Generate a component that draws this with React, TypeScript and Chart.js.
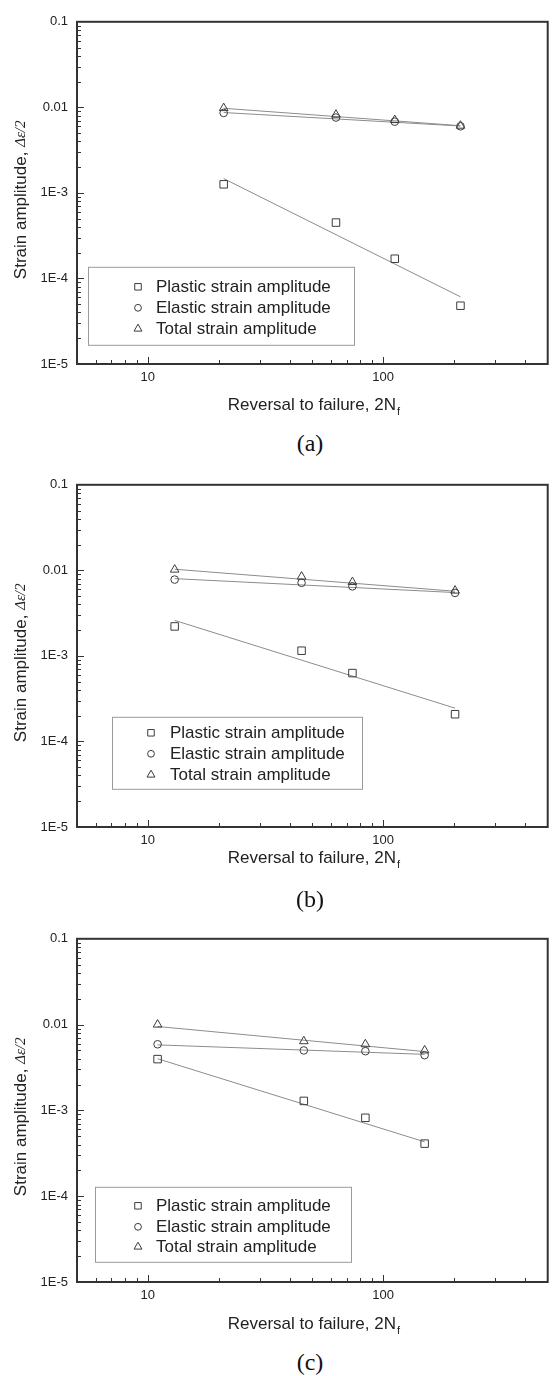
import React, { useEffect, useRef } from "react";
import { Chart, registerables } from "chart.js";

Chart.register(...registerables);

// ---------- axis definitions ----------
const X_MIN = 5;
const X_MAX = 500;
const Y_MIN = 1e-5;
const Y_MAX = 0.1;
const X_TICKS = [10, 100];
const X_TICK_LABELS = ["10", "100"];
const Y_TICKS = [1e-5, 1e-4, 1e-3, 1e-2, 1e-1];
const Y_TICK_LABELS = ["1E-5", "1E-4", "1E-3", "0.01", "0.1"];
const SERIES_NAMES = ["Plastic strain amplitude", "Elastic strain amplitude", "Total strain amplitude"];
const X_TITLE = "Reversal to failure, 2N";
const X_TITLE_SUB = "f";
const Y_TITLE = "Strain amplitude, ";
const Y_TITLE_SYMBOL = "\u0394\u03b5/2";

// ---------- panel (a) ----------
const A_REVERSALS = [21, 63, 112, 213];
const A_PLASTIC = [1.26e-3, 4.5e-4, 1.7e-4, 4.8e-5];
const A_ELASTIC = [8.6e-3, 7.6e-3, 6.8e-3, 6.0e-3];
const A_TOTAL = [9.8e-3, 8.2e-3, 7.1e-3, 6.1e-3];
const A_FIT_REVERSALS = [21, 213];
const A_PLASTIC_FIT = [1.47e-3, 6.1e-5];
const A_ELASTIC_FIT = [8.7e-3, 6.05e-3];
const A_TOTAL_FIT = [9.75e-3, 6.1e-3];

// ---------- panel (b) ----------
const B_REVERSALS = [13, 45, 74, 202];
const B_PLASTIC = [2.21e-3, 1.15e-3, 6.3e-4, 2.08e-4];
const B_ELASTIC = [7.8e-3, 7.15e-3, 6.5e-3, 5.45e-3];
const B_TOTAL = [1.02e-2, 8.45e-3, 7.3e-3, 5.8e-3];
const B_FIT_REVERSALS = [13, 202];
const B_PLASTIC_FIT = [2.6e-3, 2.45e-4];
const B_ELASTIC_FIT = [8.0e-3, 5.5e-3];
const B_TOTAL_FIT = [1.03e-2, 5.7e-3];

// ---------- panel (c) ----------
const C_REVERSALS = [11, 46, 84, 150];
const C_PLASTIC = [3.96e-3, 1.29e-3, 8.2e-4, 4.1e-4];
const C_ELASTIC = [5.9e-3, 5.0e-3, 4.9e-3, 4.4e-3];
const C_TOTAL = [1.0e-2, 6.4e-3, 5.9e-3, 5.0e-3];
const C_FIT_REVERSALS = [11, 150];
const C_PLASTIC_FIT = [4.0e-3, 4.3e-4];
const C_ELASTIC_FIT = [5.8e-3, 4.5e-3];
const C_TOTAL_FIT = [9.5e-3, 4.85e-3];

// ---------- styling ----------
const SANS = "'Liberation Sans', Arial, Helvetica, sans-serif";
const SERIF = "'Liberation Serif', 'Times New Roman', serif";
const FRAME = "#333333";
const MARKER = "#3c3c3c";
const FIT_LINE = "#8c8c8c";
const TEXT = "#222222";
const CANVAS_W = 554;
const CANVAS_H = 420;
const PAD_TOP = 12;
const PLOT_LEFT = 77;
const PLOT_RIGHT_PAD = 6;

type Legend = { left: number; right: number; top: number; bottom: number; rows: number[]; markerX: number; textX: number };
type Panel = {
  rev: number[]; plastic: number[]; elastic: number[]; total: number[];
  fitRev: number[]; plasticFit: number[]; elasticFit: number[]; totalFit: number[];
  caption: string; plotTop: number; plotH: number; titleGap: number; captionY: number; legend: Legend;
};

const PANELS: Panel[] = [
  {
    rev: A_REVERSALS, plastic: A_PLASTIC, elastic: A_ELASTIC, total: A_TOTAL,
    fitRev: A_FIT_REVERSALS, plasticFit: A_PLASTIC_FIT, elasticFit: A_ELASTIC_FIT, totalFit: A_TOTAL_FIT,
    caption: "(a)", plotTop: 17, plotH: 347, titleGap: 41, captionY: 443,
    legend: { left: 88, right: 354, top: 245, bottom: 323, rows: [265, 286, 307], markerX: 138, textX: 156 },
  },
  {
    rev: B_REVERSALS, plastic: B_PLASTIC, elastic: B_ELASTIC, total: B_TOTAL,
    fitRev: B_FIT_REVERSALS, plasticFit: B_PLASTIC_FIT, elasticFit: B_ELASTIC_FIT, totalFit: B_TOTAL_FIT,
    caption: "(b)", plotTop: 480, plotH: 347, titleGap: 31, captionY: 899,
    legend: { left: 112, right: 362, top: 232, bottom: 304, rows: [248, 269, 290], markerX: 151, textX: 170 },
  },
  {
    rev: C_REVERSALS, plastic: C_PLASTIC, elastic: C_ELASTIC, total: C_TOTAL,
    fitRev: C_FIT_REVERSALS, plasticFit: C_PLASTIC_FIT, elasticFit: C_ELASTIC_FIT, totalFit: C_TOTAL_FIT,
    caption: "(c)", plotTop: 934, plotH: 348, titleGap: 42, captionY: 1362,
    legend: { left: 95, right: 351, top: 248, bottom: 323, rows: [267, 288, 308], markerX: 138, textX: 156 },
  },
];

const STYLES = ["rect", "circle", "triangle"];
const RADII = [5.3, 3.8, 5];
const LEGEND_RADII = [4.6, 3.4, 4.6];

function drawMarker(ctx: CanvasRenderingContext2D, style: string, x: number, y: number, r: number) {
  ctx.beginPath();
  if (style === "rect") {
    const h = r * Math.SQRT1_2;
    ctx.rect(x - h, y - h, 2 * h, 2 * h);
  } else if (style === "circle") {
    ctx.arc(x, y, r, 0, Math.PI * 2);
  } else {
    let rad = 0;
    ctx.moveTo(x + Math.sin(rad) * r, y - Math.cos(rad) * r);
    rad += (2 * Math.PI) / 3;
    ctx.lineTo(x + Math.sin(rad) * r, y - Math.cos(rad) * r);
    rad += (2 * Math.PI) / 3;
    ctx.lineTo(x + Math.sin(rad) * r, y - Math.cos(rad) * r);
    ctx.closePath();
  }
  ctx.stroke();
}

function makeDecor(p: Panel) {
  return {
    id: "decor",
    afterDraw(chart: any) {
      const { ctx, chartArea: a, scales } = chart;
      const xs = scales.x;
      const ys = scales.y;
      ctx.save();
      // inward ticks
      ctx.strokeStyle = FRAME;
      ctx.lineWidth = 1;
      for (let e = -5; e <= -2; e++) {
        for (let m = 1; m <= 9; m++) {
          const v = m * Math.pow(10, e);
          if (v <= Y_MIN * 1.0001) continue;
          const py = Math.round(ys.getPixelForValue(v)) + 0.5;
          const len = m === 1 ? 7 : 4;
          ctx.beginPath();
          ctx.moveTo(a.left, py);
          ctx.lineTo(a.left + len, py);
          ctx.stroke();
        }
      }
      for (let e = 0; e <= 2; e++) {
        for (let m = 1; m <= 9; m++) {
          const v = m * Math.pow(10, e);
          if (v <= X_MIN * 1.0001 || v >= X_MAX * 0.9999) continue;
          const px = Math.round(xs.getPixelForValue(v)) + 0.5;
          const len = m === 1 ? 7 : 4;
          ctx.beginPath();
          ctx.moveTo(px, a.bottom);
          ctx.lineTo(px, a.bottom - len);
          ctx.stroke();
        }
      }
      // frame
      ctx.strokeStyle = FRAME;
      ctx.lineWidth = 2;
      ctx.strokeRect(a.left, a.top, a.right - a.left, a.bottom - a.top);

      // legend
      const L = p.legend;
      ctx.fillStyle = "#ffffff";
      ctx.fillRect(L.left, a.top + L.top, L.right - L.left, L.bottom - L.top);
      ctx.strokeStyle = "#9a9a9a";
      ctx.lineWidth = 1;
      ctx.strokeRect(L.left + 0.5, a.top + L.top + 0.5, L.right - L.left, L.bottom - L.top);
      ctx.font = `17px ${SANS}`;
      ctx.textBaseline = "middle";
      ctx.textAlign = "left";
      SERIES_NAMES.forEach((name, i) => {
        const y = a.top + L.rows[i];
        ctx.strokeStyle = MARKER;
        ctx.lineWidth = 1;
        drawMarker(ctx, STYLES[i], L.markerX, y, LEGEND_RADII[i]);
        ctx.fillStyle = TEXT;
        ctx.fillText(name, L.textX, y + 1);
      });

      // x title
      ctx.fillStyle = TEXT;
      ctx.font = `17px ${SANS}`;
      const w1 = ctx.measureText(X_TITLE).width;
      ctx.font = `11px ${SANS}`;
      const w2 = ctx.measureText(X_TITLE_SUB).width;
      const cx = (a.left + a.right) / 2 + 1;
      const ty = a.bottom + p.titleGap;
      const sx = cx - (w1 + w2) / 2;
      ctx.font = `17px ${SANS}`;
      ctx.fillText(X_TITLE, sx, ty);
      ctx.font = `11px ${SANS}`;
      ctx.fillText(X_TITLE_SUB, sx + w1 + 1, ty + 7);

      // y title (rotated, mixed fonts)
      ctx.save();
      ctx.translate(21, a.top + 178);
      ctx.rotate(-Math.PI / 2);
      ctx.font = `17px ${SANS}`;
      const u1 = ctx.measureText(Y_TITLE).width;
      ctx.font = `italic 15px ${SERIF}`;
      const u2 = ctx.measureText(Y_TITLE_SYMBOL).width;
      const st = -(u1 + u2) / 2;
      ctx.font = `17px ${SANS}`;
      ctx.fillText(Y_TITLE, st, 0);
      ctx.font = `italic 15px ${SERIF}`;
      ctx.fillText(Y_TITLE_SYMBOL, st + u1, 0);
      ctx.restore();

      ctx.restore();
    },
  };
}

function pts(xs: number[], ys: number[]) {
  return xs.map((x, i) => ({ x, y: ys[i] }));
}

function PanelChart({ p }: { p: Panel }) {
  const ref = useRef<HTMLCanvasElement | null>(null);
  useEffect(() => {
    if (!ref.current) return;
    const seriesY = [p.plastic, p.elastic, p.total];
    const fitY = [p.plasticFit, p.elasticFit, p.totalFit];
    const markerSets = seriesY.map((ys, i) => ({
      label: SERIES_NAMES[i],
      data: pts(p.rev, ys),
      showLine: false,
      pointStyle: STYLES[i],
      pointRadius: RADII[i],
      pointBorderColor: MARKER,
      pointBackgroundColor: "rgba(0,0,0,0)",
      pointBorderWidth: 1,
      order: 0,
    }));
    const fitSets = fitY.map((ys, i) => ({
      label: SERIES_NAMES[i] + " fit",
      data: pts(p.fitRev, ys),
      showLine: true,
      borderColor: FIT_LINE,
      borderWidth: 1,
      pointRadius: 0,
      order: 1,
    }));
    const xAxisH = CANVAS_H - PAD_TOP - p.plotH;
    const chart = new Chart(ref.current, {
      type: "scatter",
      data: { datasets: [...markerSets, ...fitSets] as any },
      options: {
        animation: false,
        responsive: false,
        devicePixelRatio: 1,
        layout: { padding: { top: PAD_TOP, right: PLOT_RIGHT_PAD, left: 0, bottom: 0 } },
        plugins: { legend: { display: false }, tooltip: { enabled: false } },
        scales: {
          x: {
            type: "logarithmic",
            min: X_MIN,
            max: X_MAX,
            afterBuildTicks: (s: any) => {
              s.ticks = X_TICKS.map((v) => ({ value: v }));
            },
            afterFit: (s: any) => {
              s.height = xAxisH;
            },
            ticks: {
              autoSkip: false,
              maxRotation: 0,
              padding: 6,
              color: TEXT,
              font: { family: SANS, size: 13 },
              callback: (v: any) => {
                const i = X_TICKS.findIndex((t) => Math.abs(t - v) / t < 1e-6);
                return i >= 0 ? X_TICK_LABELS[i] : "";
              },
            },
            grid: { display: false, drawTicks: false },
            border: { display: false },
          },
          y: {
            type: "logarithmic",
            min: Y_MIN,
            max: Y_MAX,
            afterBuildTicks: (s: any) => {
              s.ticks = Y_TICKS.map((v) => ({ value: v }));
            },
            afterFit: (s: any) => {
              s.width = PLOT_LEFT;
            },
            ticks: {
              autoSkip: false,
              padding: 9,
              color: TEXT,
              font: { family: SANS, size: 13 },
              callback: (v: any) => {
                const i = Y_TICKS.findIndex((t) => Math.abs(t - v) / t < 1e-6);
                return i >= 0 ? Y_TICK_LABELS[i] : "";
              },
            },
            grid: { display: false, drawTicks: false },
            border: { display: false },
          },
        },
      } as any,
      plugins: [makeDecor(p)],
    });
    return () => chart.destroy();
  }, [p]);
  return (
    <>
      <canvas
        ref={ref}
        width={CANVAS_W}
        height={CANVAS_H}
        style={{ position: "absolute", left: 0, top: p.plotTop - PAD_TOP, width: CANVAS_W, height: CANVAS_H }}
      />
      <div
        style={{
          position: "absolute",
          left: 260,
          width: 100,
          top: p.captionY - 14,
          lineHeight: "28px",
          fontSize: 24,
          fontFamily: SERIF,
          color: "#111",
          textAlign: "center",
        }}
      >
        {p.caption}
      </div>
    </>
  );
}

export default function App() {
  useEffect(() => {
    document.body.style.margin = "0";
  }, []);
  return (
    <div style={{ position: "relative", width: 554, height: 1376, background: "#fff", overflow: "hidden" }}>
      {PANELS.map((p) => (
        <PanelChart key={p.caption} p={p} />
      ))}
    </div>
  );
}
